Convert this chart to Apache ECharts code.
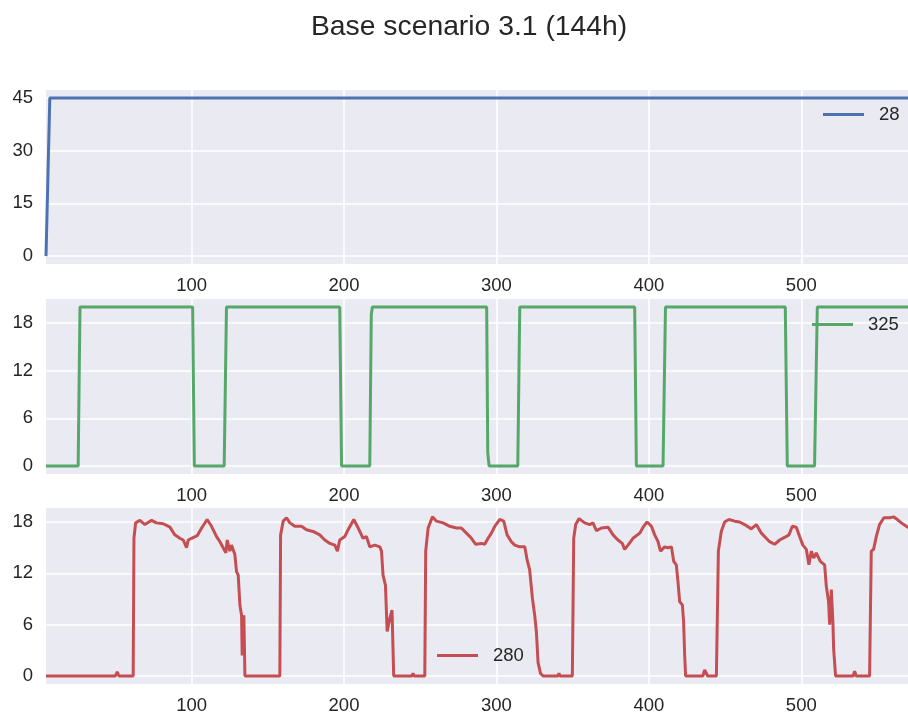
<!DOCTYPE html>
<html>
<head>
<meta charset="utf-8">
<script src="https://cdn.jsdelivr.net/npm/echarts@6/dist/echarts.min.js"></script>
<style>
html,body{margin:0;padding:0;background:#fff;}
#c{width:908px;height:718px;}
</style>
</head>
<body>
<div id="c"></div>
<script>
// ---- data ----
const titleText = 'Base scenario 3.1 (144h)';
const xTicks = [100, 200, 300, 400, 500];
const xMin = 4.5, xMax = 570;

const blueName = '28';
const blueX = [4.5, 7, 576];
const blueY = [0, 45, 45];
const blueTicks = [0, 15, 30, 45];

const greenName = '325';
const greenX = [4.5, 25.6, 26.8, 100.7, 101.8, 121.4, 122.9, 197.2, 198.4, 216.9, 217.9, 218.6, 293.6, 294.3, 295.2, 314.0, 315.3, 390.7, 391.8, 409.3, 410.9, 489.5, 490.8, 508.7, 510.5, 576];
const greenY = [0, 0, 20, 20, 0, 0, 20, 20, 0, 0, 19, 20, 20, 1.7, 0, 0, 20, 20, 0, 0, 20, 20, 0, 0, 20, 20];
const greenTicks = [0, 6, 12, 18];

const redName = '280';
const redX = [4.5, 50.0, 51.2, 52.4, 61.7, 62.2, 63.3, 66.1, 69.4, 73.8, 77.0, 81.4, 85.8, 89.0, 92.3, 94.5, 96.7, 97.8, 100.0, 103.7, 106.6, 110.2, 113.1, 116.4, 118.6, 120.7, 122.5, 123.4, 125.1, 126.2, 128.4, 129.5, 130.6, 131.7, 132.8, 133.2, 134.3, 135.0,
  157.9, 158.4, 160.1, 162.3, 164.5, 167.7, 172.1, 175.4, 179.7, 184.1, 187.4, 190.7, 194.0, 195.7, 197.2, 200.5, 202.7, 206.4, 209.3, 212.5, 214.7, 216.9, 220.2, 223.5, 224.6, 225.6, 227.2, 228.3, 229.4, 230.0, 231.5, 232.6, 244.5, 245.3, 246.1,
  253.0, 253.6, 255.2, 258.0, 260.7, 265.0, 269.4, 273.8, 277.0, 280.3, 283.6, 286.4, 290.2, 292.3, 294.5, 296.7, 298.9, 302.2, 304.8, 307.0, 309.8, 312.0, 315.3, 318.6, 320.1, 321.8, 323.6, 325.1, 326.2, 327.3, 328.9, 330.6, 340.2, 341.0, 341.8,
  349.8, 350.7, 352.0, 354.2, 357.9, 361.2, 363.3, 365.6, 368.9, 373.2, 376.5, 379.7, 382.6, 384.1, 386.3, 389.6, 394.0, 396.6, 398.8, 401.7, 403.8, 406.0, 407.6, 410.4, 412.6, 414.8, 416.3, 418.0, 419.1, 420.2, 422.0, 422.8, 423.5, 424.1, 435.4, 436.6, 438.6, 444.3,
  444.7, 445.6, 447.5, 449.7, 452.5, 456.3, 459.5, 462.8, 467.2, 470.5, 473.8, 477.0, 479.2, 482.5, 485.8, 489.0, 491.9, 494.1, 496.7, 498.9, 501.0, 503.3, 505.0, 506.6, 508.1, 509.8, 512.5, 515.3, 516.4, 517.9, 518.6, 519.7, 520.8, 521.2, 522.5, 534.0, 535.0, 536.0,
  544.8, 545.9, 547.4, 549.2, 551.3, 554.2, 557.9, 560.5, 562.3, 565.6, 568.9, 572.0];
const redY = [0, 0, 0.47, 0, 0, 16.1, 17.9, 18.2, 17.7, 18.2, 17.9, 17.8, 17.4, 16.5, 16.1, 15.9, 15.0, 15.9, 16.1, 16.4, 17.3, 18.3, 17.5, 16.3, 15.7, 15.0, 14.4, 15.9, 14.6, 15.3, 14.2, 12.2, 11.8, 8.3, 7.1, 2.4, 7.1, 0,
  0, 16.5, 18.1, 18.5, 17.9, 17.5, 17.5, 17.1, 16.9, 16.5, 15.9, 15.5, 15.3, 14.6, 15.9, 16.3, 17.1, 18.3, 17.3, 16.1, 16.3, 15.1, 15.3, 15.1, 14.6, 11.8, 10.6, 5.2, 5.2, 6.7, 7.7, 0, 0, 0.3, 0,
  0, 14.6, 17.3, 18.6, 18.1, 17.9, 17.5, 17.3, 17.3, 16.7, 16.1, 15.4, 15.5, 15.4, 16.1, 16.7, 17.5, 18.3, 18.1, 16.5, 15.7, 15.3, 15.1, 15.1, 13.6, 12.4, 9.1, 7.1, 5.2, 1.6, 0.3, 0, 0, 0.3, 0,
  0, 16.1, 17.7, 18.4, 17.9, 17.7, 17.9, 17.0, 17.3, 17.4, 16.5, 15.9, 15.5, 14.8, 15.3, 16.1, 16.7, 17.5, 18.0, 17.5, 16.5, 15.7, 14.6, 15.1, 15.0, 15.1, 13.4, 13.0, 11.0, 8.7, 8.3, 6.3, 2.4, 0, 0, 0.7, 0, 0,
  0, 14.6, 16.9, 18.0, 18.3, 18.1, 18.0, 17.7, 17.2, 17.7, 16.7, 16.1, 15.7, 15.4, 15.9, 16.2, 16.5, 17.5, 17.4, 16.3, 15.3, 14.8, 13.0, 14.6, 13.8, 14.4, 13.4, 13.0, 10.5, 8.7, 6.0, 10.1, 6.0, 3.2, 0, 0, 0.55, 0,
  0, 14.6, 14.8, 16.3, 17.7, 18.5, 18.5, 18.6, 18.4, 17.9, 17.5, 17.2];
const redTicks = [0, 6, 12, 18];

// ---- chart ----
const zip = (xs, ys) => xs.map((x, i) => [x, ys[i]]);
const txt = '#262626';
const font = 'Liberation Sans, Arial, sans-serif';
const grids = [
  {left: 46, right: 0, top: 90, height: 174},
  {left: 46, right: 0, top: 299, height: 175},
  {left: 46, right: 0, top: 508, height: 176}
];
const yRanges = [[-2.25, 47.25], [-1, 21], [-0.935, 19.64]];
const yTickSets = [blueTicks, greenTicks, redTicks];

const option = {
  animation: false,
  backgroundColor: '#ffffff',
  title: {
    text: titleText, left: 306, top: 8,
    textStyle: {fontFamily: font, fontSize: 28.3, fontWeight: 'normal', color: txt}
  },
  grid: grids.map(g => Object.assign({show: true, backgroundColor: '#EAEAF2', borderWidth: 0}, g)),
  xAxis: grids.map((g, i) => ({
    type: 'value', gridIndex: i, min: xMin, max: xMax,
    axisLine: {show: false},
    axisTick: {show: false, customValues: xTicks},
    axisLabel: {customValues: xTicks, margin: 12, fontSize: 18.5, fontFamily: font, color: txt},
    splitLine: {show: true, lineStyle: {color: '#ffffff', width: 1.6}}
  })),
  yAxis: grids.map((g, i) => ({
    type: 'value', gridIndex: i, min: yRanges[i][0], max: yRanges[i][1],
    axisLine: {show: false},
    axisTick: {show: false, customValues: yTickSets[i]},
    axisLabel: {customValues: yTickSets[i], margin: 13, fontSize: 18.5, fontFamily: font, color: txt},
    splitLine: {show: true, lineStyle: {color: '#ffffff', width: 1.6}}
  })),
  legend: [
    {data: [blueName], left: 823, top: 105},
    {data: [greenName], left: 812, top: 315},
    {data: [redName], left: 437, top: 646}
  ].map(l => Object.assign({
    padding: 0, icon: 'rect', itemWidth: 41, itemHeight: 3, itemGap: 0,
    textStyle: {fontSize: 18.5, fontFamily: font, color: txt, padding: [0, 0, 0, 10]}
  }, l)),
  series: [
    {name: blueName, type: 'line', xAxisIndex: 0, yAxisIndex: 0, data: zip(blueX, blueY), symbol: 'none', color: '#4C72B0', lineStyle: {width: 3}},
    {name: greenName, type: 'line', xAxisIndex: 1, yAxisIndex: 1, data: zip(greenX, greenY), symbol: 'none', color: '#55A868', lineStyle: {width: 3}},
    {name: redName, type: 'line', xAxisIndex: 2, yAxisIndex: 2, data: zip(redX, redY), symbol: 'none', color: '#C44E52', lineStyle: {width: 3}}
  ]
};
echarts.init(document.getElementById('c')).setOption(option);
</script>
</body>
</html>
